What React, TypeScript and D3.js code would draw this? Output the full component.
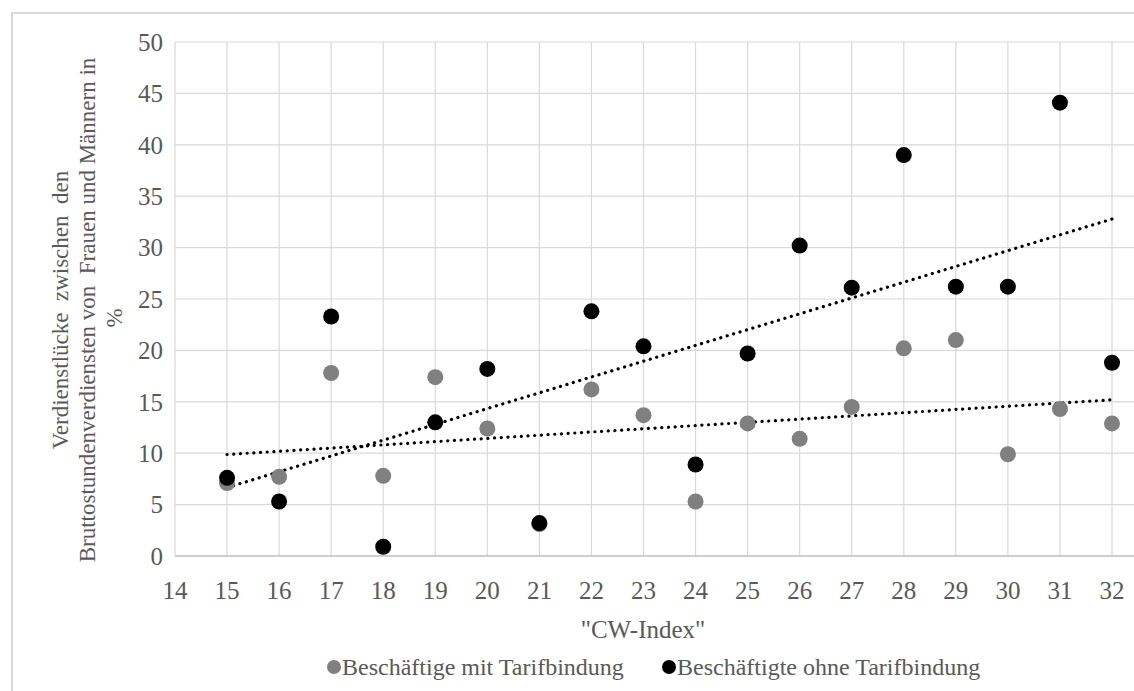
import React, { useEffect, useRef } from 'react';
import * as d3 from 'd3';

// CW-Index values on the x axis
const cwIndex = [15, 16, 17, 18, 19, 20, 21, 22, 23, 24, 25, 26, 27, 28, 29, 30, 31, 32];
// Verdienstlücke in %
const mitTarif = [7.1, 7.7, 17.8, 7.8, 17.4, 12.4, 3.1, 16.2, 13.7, 5.3, 12.9, 11.4, 14.5, 20.2, 21.0, 9.9, 14.3, 12.9];
const ohneTarif = [7.6, 5.3, 23.3, 0.9, 13.0, 18.2, 3.2, 23.8, 20.4, 8.9, 19.7, 30.2, 26.1, 39.0, 26.2, 26.2, 44.1, 18.8];
const xTicks = [14, 15, 16, 17, 18, 19, 20, 21, 22, 23, 24, 25, 26, 27, 28, 29, 30, 31, 32];
const yTicks = [0, 5, 10, 15, 20, 25, 30, 35, 40, 45, 50];
const seriesNames = ['Beschäftige mit Tarifbindung', 'Beschäftigte ohne Tarifbindung'];
const yTitleLines = ['Verdienstlücke  zwischen  den', 'Bruttostundenverdiensten von  Frauen und Männern in', '%'];

const FONT = "'Liberation Serif', 'DejaVu Serif', serif";
const TEXT = '#595959';

// least squares line, like Excel's linear trendline
function linReg(xs: number[], ys: number[]) {
  const mx = d3.mean(xs)!;
  const my = d3.mean(ys)!;
  let sxy = 0, sxx = 0;
  xs.forEach((x, i) => { sxy += (x - mx) * (ys[i] - my); sxx += (x - mx) * (x - mx); });
  const b = sxy / sxx;
  return (x: number) => my + b * (x - mx);
}

export default function App() {
  const svgRef = useRef<SVGSVGElement>(null);

  useEffect(() => {
    if (!svgRef.current) return;
    const svg = d3.select(svgRef.current);
    svg.selectAll('*').remove();

    const width = 1134;
    const height = 691;
    const x = d3.scaleLinear().domain([14, 32]).range([175, 1112]);
    const y = d3.scaleLinear().domain([0, 50]).range([556, 42]);
    const plotRight = width;

    svg.append('rect').attr('width', width).attr('height', height).attr('fill', '#fff');

    // outer chart border
    svg.append('rect')
      .attr('x', 12).attr('y', 13)
      .attr('width', width + 20).attr('height', height + 20)
      .attr('fill', 'none').attr('stroke', '#d9d9d9').attr('stroke-width', 2);

    // gridlines
    svg.append('g').selectAll('line')
      .data(yTicks.filter(t => t > 0))
      .enter().append('line')
      .attr('x1', x(14)).attr('x2', plotRight)
      .attr('y1', d => y(d)).attr('y2', d => y(d))
      .attr('stroke', '#d9d9d9').attr('stroke-width', 1.2);

    svg.append('g').selectAll('line')
      .data(xTicks)
      .enter().append('line')
      .attr('x1', d => x(d)).attr('x2', d => x(d))
      .attr('y1', y(50)).attr('y2', y(0))
      .attr('stroke', '#d9d9d9').attr('stroke-width', 1.2);

    // x axis line
    svg.append('line')
      .attr('x1', x(14)).attr('x2', plotRight)
      .attr('y1', y(0)).attr('y2', y(0))
      .attr('stroke', '#bfbfbf').attr('stroke-width', 1.5);

    // tick labels
    svg.append('g').selectAll('text')
      .data(yTicks)
      .enter().append('text')
      .attr('x', 163).attr('y', d => y(d))
      .attr('dy', '0.35em')
      .attr('text-anchor', 'end')
      .style('font-family', FONT).attr('font-size', 25).attr('fill', TEXT)
      .text(d => d);

    svg.append('g').selectAll('text')
      .data(xTicks)
      .enter().append('text')
      .attr('x', d => x(d)).attr('y', 599)
      .attr('text-anchor', 'middle')
      .style('font-family', FONT).attr('font-size', 25).attr('fill', TEXT)
      .text(d => d);

    // axis titles
    svg.append('text')
      .attr('x', 643).attr('y', 638)
      .attr('text-anchor', 'middle')
      .style('font-family', FONT).attr('font-size', 25).attr('fill', TEXT)
      .text('"CW-Index"');

    const yTitle = svg.append('g').attr('transform', 'translate(68,310) rotate(-90)');
    yTitleLines.forEach((line, i) => {
      yTitle.append('text')
        .attr('x', i === 2 ? -8 : 0).attr('y', i * 27)
        .attr('text-anchor', 'middle')
        .style('font-family', FONT).attr('font-size', 23).attr('fill', TEXT)
        .attr('xml:space', 'preserve')
        .style('white-space', 'pre')
        .text(line);
    });

    // trendlines (dotted)
    const trendData = [mitTarif, ohneTarif];
    trendData.forEach(vals => {
      const f = linReg(cwIndex, vals);
      const x0 = d3.min(cwIndex)!;
      const x1 = d3.max(cwIndex)!;
      svg.append('line')
        .attr('x1', x(x0)).attr('y1', y(f(x0)))
        .attr('x2', x(x1)).attr('y2', y(f(x1)))
        .attr('stroke', '#000').attr('stroke-width', 3.2)
        .attr('stroke-linecap', 'round')
        .attr('stroke-dasharray', '0.1 6.6');
    });

    // points: grey series first, black on top
    const series = [
      { values: mitTarif, color: '#808080' },
      { values: ohneTarif, color: '#000000' },
    ];
    series.forEach(s => {
      svg.append('g').selectAll('circle')
        .data(cwIndex.map((c, i) => ({ c, v: s.values[i] })))
        .enter().append('circle')
        .attr('cx', d => x(d.c)).attr('cy', d => y(d.v))
        .attr('r', 8)
        .attr('fill', s.color);
    });

    // legend
    const legendItems = [
      { name: seriesNames[0], color: '#808080', cx: 334 },
      { name: seriesNames[1], color: '#000000', cx: 669 },
    ];
    legendItems.forEach(it => {
      svg.append('circle').attr('cx', it.cx).attr('cy', 667).attr('r', 7).attr('fill', it.color);
      svg.append('text')
        .attr('x', it.cx + 8).attr('y', 675)
        .style('font-family', FONT).attr('font-size', 24).attr('fill', TEXT)
        .text(it.name);
    });
  }, []);

  return (
    <svg
      ref={svgRef}
      width={1134}
      height={691}
      viewBox="0 0 1134 691"
      style={{ position: 'absolute', left: 0, top: 0 }}
    />
  );
}
